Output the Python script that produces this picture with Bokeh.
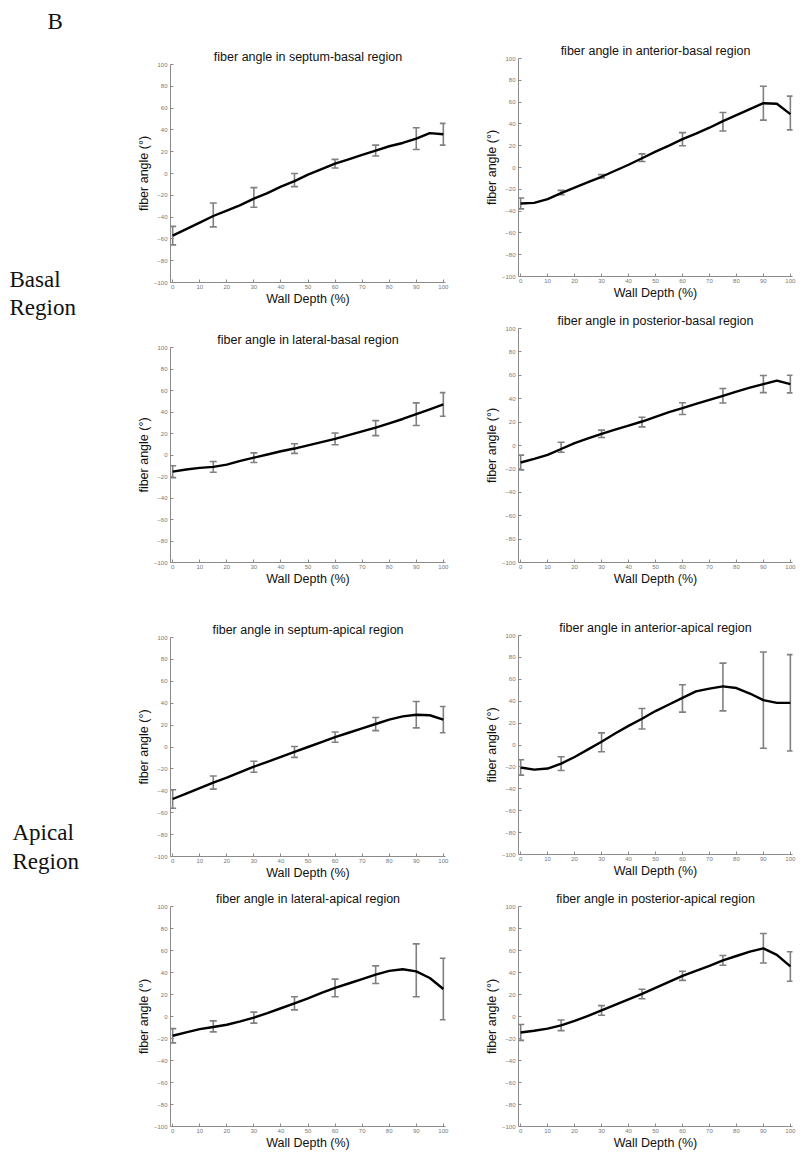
from bokeh.plotting import figure
from bokeh.layouts import row, column
from bokeh.models import Range1d, FixedTicker, Whisker, TeeHead, ColumnDataSource, Label
from bokeh.embed import file_html
from bokeh.resources import INLINE

# ---------------- data ----------------
depth_line = [0, 5, 10, 15, 20, 25, 30, 35, 40, 45, 50, 55, 60, 65, 70, 75, 80, 85, 90, 95, 100]
depth_err = [0, 15, 30, 45, 60, 75, 90, 100]

septum_basal_line = [-57, -51, -45, -39, -34, -29, -23, -18, -12, -7, -1, 4, 9, 13, 17, 21, 25, 28, 32, 37, 36]
septum_basal_mean = [-57, -38, -22, -6, 9, 21, 32, 36]
septum_basal_sd = [8.5, 11, 9, 6, 4, 5, 10, 10]

anterior_basal_line = [-33, -32.5, -29, -23.5, -18.5, -13.5, -8.5, -3, 2.5, 8.5, 14.5, 20, 26, 31, 36.5, 42.5, 48, 53.5, 59, 58.5, 49]
anterior_basal_mean = [-33, -23, -8, 9, 26, 42, 59, 50]
anterior_basal_sd = [5, 2, 1.5, 3.5, 6, 8.5, 15.5, 15.5]

lateral_basal_line = [-15.5, -13.5, -12, -11, -9, -5.5, -2.5, 0.5, 3.5, 6, 9, 12, 15, 18.5, 22, 25.5, 29.5, 33.5, 38, 42.5, 47]
lateral_basal_mean = [-15.5, -11, -2.5, 6, 15, 25, 38, 47]
lateral_basal_sd = [5.5, 5, 4.5, 4.5, 5.5, 7, 10.5, 11]

posterior_basal_line = [-14.5, -11.5, -8, -3, 2, 6, 10, 13.5, 17, 20.5, 24.5, 28.5, 32, 35.5, 39, 42.5, 46, 49.5, 52.5, 55.5, 52.5]
posterior_basal_mean = [-14.5, -1.5, 10, 20, 31.5, 42.5, 52.5, 52.5]
posterior_basal_sd = [6.3, 4.3, 3.1, 4.1, 5, 6.2, 7.3, 7.5]

septum_apical_line = [-47.5, -42.5, -37.5, -32.5, -28, -23, -18, -13.5, -9, -4.5, 0, 4.5, 9, 13, 17, 21, 25, 28, 29.5, 29, 25]
septum_apical_mean = [-47.5, -32.5, -18, -4.5, 9, 21, 29.5, 25]
septum_apical_sd = [8.5, 6, 5, 5, 4.7, 6, 12, 12]

anterior_apical_line = [-20.5, -22.5, -21.5, -17, -11, -4, 3, 10.5, 17.5, 24, 31, 37, 43, 49, 51.5, 53.5, 52, 47, 41, 38.5, 38.5]
anterior_apical_mean = [-20.5, -17, 2.5, 24, 42.5, 53, 41, 38.5]
anterior_apical_sd = [7, 6.3, 8.6, 9.4, 12.5, 21.8, 44, 44]

lateral_apical_line = [-17.5, -14.5, -11.5, -9.5, -7.5, -4.5, -1, 3, 7.5, 12, 16.5, 21.5, 26, 30, 34, 38, 41.5, 43, 41, 35, 25]
lateral_apical_mean = [-17.5, -9, -1, 12, 26, 38, 42, 25]
lateral_apical_sd = [6.5, 5, 5, 6, 8, 8, 24, 28]

posterior_apical_line = [-14.5, -13, -11, -8, -4, 0.5, 5.5, 10.5, 15.5, 20.5, 26, 31.5, 37, 41.5, 46, 51, 55, 59, 62, 56, 45.5]
posterior_apical_mean = [-14.5, -8, 5.5, 20.5, 37, 51, 62, 45.5]
posterior_apical_sd = [7.2, 4.8, 4.4, 4.3, 4.2, 4.4, 13.4, 13.4]

titles = [
    "fiber angle in septum-basal region",
    "fiber angle in anterior-basal region",
    "fiber angle in lateral-basal region",
    "fiber angle in posterior-basal region",
    "fiber angle in septum-apical region",
    "fiber angle in anterior-apical region",
    "fiber angle in lateral-apical region",
    "fiber angle in posterior-apical region",
]
x_label = "Wall Depth (%)"
y_label = "fiber angle (°)"
x_ticks = [0, 10, 20, 30, 40, 50, 60, 70, 80, 90, 100]
y_ticks = [-100, -80, -60, -40, -20, 0, 20, 40, 60, 80, 100]

series = [
    (septum_basal_line, septum_basal_mean, septum_basal_sd),
    (anterior_basal_line, anterior_basal_mean, anterior_basal_sd),
    (lateral_basal_line, lateral_basal_mean, lateral_basal_sd),
    (posterior_basal_line, posterior_basal_mean, posterior_basal_sd),
    (septum_apical_line, septum_apical_mean, septum_apical_sd),
    (anterior_apical_line, anterior_apical_mean, anterior_apical_sd),
    (lateral_apical_line, lateral_apical_mean, lateral_apical_sd),
    (posterior_apical_line, posterior_apical_mean, posterior_apical_sd),
]

# ---------------- layout (width, height, border left, right, top, bottom) ----------------
geoms = [
    (360, 308, 52, 33, 64, 24),   # septum-basal
    (326, 302, 40, 12, 58, 24),   # anterior-basal
    (360, 280, 52, 33, 39, 26),   # lateral-basal
    (326, 286, 40, 12, 26, 24),   # posterior-basal
    (360, 294, 52, 33, 49, 25),   # septum-apical
    (326, 292, 40, 12, 47, 25),   # anterior-apical
    (360, 272, 52, 33, 24, 28),   # lateral-apical
    (326, 274, 40, 12, 26, 28),   # posterior-apical
]

FONT = "Liberation Sans"
AX_COL = "#8a8a8a"
ERR_COL = "#808080"


def make_plot(title, line, mean, sd, g):
    w, h, bl, br, bt, bb = g
    p = figure(width=w, height=h, x_range=Range1d(-0.8, 100.8), y_range=Range1d(-100, 100),
               toolbar_location=None, output_backend="svg",
               min_border_left=bl, min_border_right=br, min_border_top=bt, min_border_bottom=bb)
    p.title.text = title
    p.title.align = "center"
    p.title.text_font = FONT
    p.title.text_font_size = "12.5px"
    p.title.text_font_style = "normal"
    p.title.text_color = "#111111"
    p.title.standoff = 2
    p.outline_line_color = None
    p.grid.visible = False
    p.xaxis.ticker = FixedTicker(ticks=x_ticks)
    p.yaxis.ticker = FixedTicker(ticks=y_ticks)
    p.xaxis.axis_label = x_label
    p.yaxis.axis_label = y_label
    for ax in (p.xaxis, p.yaxis):
        ax.axis_line_color = AX_COL
        ax.axis_line_width = 1
        ax.major_tick_line_color = AX_COL
        ax.major_tick_in = 3
        ax.major_tick_out = 0
        ax.minor_tick_line_color = None
        ax.major_label_text_font = FONT
        ax.major_label_text_font_size = "6px"
        ax.major_label_text_color = "#777777"
        ax.major_label_standoff = 2
        ax.axis_label_text_font = FONT
        ax.axis_label_text_font_size = "12.5px"
        ax.axis_label_text_font_style = "normal"
        ax.axis_label_text_color = "#111111"
    p.xaxis.axis_label_standoff = 0
    p.yaxis.axis_label_standoff = 0
    p.yaxis.major_label_standoff = 3

    lower = [m - s for m, s in zip(mean, sd)]
    upper = [m + s for m, s in zip(mean, sd)]
    src = ColumnDataSource(dict(x=depth_err, lower=lower, upper=upper))
    wh = Whisker(source=src, base="x", lower="lower", upper="upper", dimension="height",
                 line_color=ERR_COL, line_width=1.6, level="underlay",
                 upper_head=TeeHead(size=7, line_color=ERR_COL, line_width=1.6),
                 lower_head=TeeHead(size=7, line_color=ERR_COL, line_width=1.6))
    p.add_layout(wh)
    p.line(depth_line, line, line_color="black", line_width=2.4)
    return p


plots = [make_plot(t, *s, g) for t, s, g in zip(titles, series, geoms)]

# side labels
lab = figure(width=118, height=1154, x_range=Range1d(0, 118), y_range=Range1d(1154, 0),
             toolbar_location=None, output_backend="svg", min_border=0)
lab.axis.visible = False
lab.grid.visible = False
lab.outline_line_color = None
side_texts = [("B", 47, 21), ("Basal", 9, 279), ("Region", 9, 307), ("Apical", 12, 832), ("Region", 12, 861)]
for t, x, y in side_texts:
    lab.add_layout(Label(x=x, y=y, text=t, text_font="Liberation Serif", text_font_size="23px",
                         text_baseline="middle", text_align="left", text_color="#111111"))

left_col = column(plots[0], plots[2], plots[4], plots[6])
right_col = column(plots[1], plots[3], plots[5], plots[7])
layout = row(lab, left_col, right_col)

open("out.html", "w").write(file_html(layout, INLINE))
